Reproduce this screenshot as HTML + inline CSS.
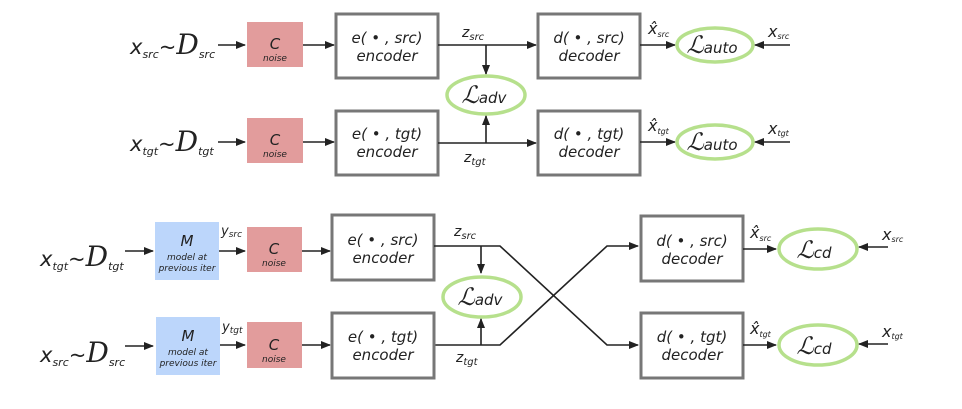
<!DOCTYPE html>
<html><head><style>
html,body{margin:0;padding:0;background:#fff;}
svg text{font-family:"DejaVu Sans","Liberation Sans",sans-serif;font-style:italic;fill:#222;}
.b{fill:#fff;stroke:#777;stroke-width:3;}
.c{fill:#e29c9c;}
.m{fill:#bcd6fb;}
.e{fill:#fff;stroke:#b6e08c;stroke-width:3.5;}
.l{stroke:#222;stroke-width:1.6;fill:none;}
.t{font-size:15px;text-anchor:middle;}
.s{font-size:9px;text-anchor:middle;}
.big{font-family:"DejaVu Serif","Liberation Serif",serif;}
.L{font-size:24px;font-family:"DejaVu Serif",serif;text-anchor:middle;}
</style></head><body>
<svg width="962" height="404" viewBox="0 0 962 404" xmlns="http://www.w3.org/2000/svg">
<defs><marker id="a" markerWidth="10" markerHeight="8" refX="9" refY="4" orient="auto" markerUnits="userSpaceOnUse"><path d="M0,0 L10,4 L0,8 z" fill="#222"/></marker></defs>

<!-- TOP -->
<text x="130" y="54" font-size="21">x<tspan font-size="11" dy="4">src</tspan><tspan dy="-4">~</tspan><tspan class="big" font-size="28">D</tspan><tspan font-size="11" dy="4">src</tspan></text>
<line class="l" x1="218" y1="45" x2="245" y2="45" marker-end="url(#a)"/>
<rect class="c" x="247" y="22" width="56" height="45"/>
<text class="t" x="275" y="49" font-size="20">C</text><text class="s" x="275" y="61">noise</text>
<line class="l" x1="303" y1="45" x2="334" y2="45" marker-end="url(#a)"/>
<rect class="b" x="336" y="14" width="102" height="64"/>
<text class="t" x="387" y="43">e( • , src)</text><text class="t" x="387" y="61">encoder</text>
<line class="l" x1="438" y1="45" x2="536" y2="45" marker-end="url(#a)"/>
<text x="462" y="37" font-size="14">z<tspan font-size="10" dy="3">src</tspan></text>
<line class="l" x1="486" y1="45" x2="486" y2="74" marker-end="url(#a)"/>
<rect class="b" x="538" y="14" width="102" height="64"/>
<text class="t" x="589" y="43">d( • , src)</text><text class="t" x="589" y="61">decoder</text>
<line class="l" x1="640" y1="45" x2="675" y2="45" marker-end="url(#a)"/>
<text x="648" y="34" font-size="16">x̂<tspan font-size="8" dy="3">src</tspan></text>
<ellipse class="e" cx="715" cy="45" rx="38" ry="17"/>
<text class="L" x="712" y="53">ℒ<tspan font-size="15" font-family="DejaVu Sans">auto</tspan></text>
<line class="l" x1="790" y1="45" x2="755" y2="45" marker-end="url(#a)"/>
<text x="768" y="37" font-size="16">x<tspan font-size="8" dy="2">src</tspan></text>

<ellipse class="e" cx="486" cy="95" rx="39" ry="19"/>
<text class="L" x="484" y="103">ℒ<tspan font-size="15" font-family="DejaVu Sans">adv</tspan></text>

<text x="130" y="151" font-size="21">x<tspan font-size="11" dy="4">tgt</tspan><tspan dy="-4">~</tspan><tspan class="big" font-size="28">D</tspan><tspan font-size="11" dy="4">tgt</tspan></text>
<line class="l" x1="218" y1="142" x2="245" y2="142" marker-end="url(#a)"/>
<rect class="c" x="247" y="118" width="56" height="45"/>
<text class="t" x="275" y="145" font-size="20">C</text><text class="s" x="275" y="157">noise</text>
<line class="l" x1="303" y1="142" x2="334" y2="142" marker-end="url(#a)"/>
<rect class="b" x="336" y="111" width="102" height="64"/>
<text class="t" x="387" y="139">e( • , tgt)</text><text class="t" x="387" y="157">encoder</text>
<line class="l" x1="438" y1="143" x2="536" y2="143" marker-end="url(#a)"/>
<text x="464" y="162" font-size="14">z<tspan font-size="10" dy="3">tgt</tspan></text>
<line class="l" x1="486" y1="143" x2="486" y2="116" marker-end="url(#a)"/>
<rect class="b" x="538" y="111" width="102" height="64"/>
<text class="t" x="589" y="139">d( • , tgt)</text><text class="t" x="589" y="157">decoder</text>
<line class="l" x1="640" y1="142" x2="675" y2="142" marker-end="url(#a)"/>
<text x="648" y="131" font-size="16">x̂<tspan font-size="8" dy="3">tgt</tspan></text>
<ellipse class="e" cx="715" cy="142" rx="38" ry="17"/>
<text class="L" x="712" y="150">ℒ<tspan font-size="15" font-family="DejaVu Sans">auto</tspan></text>
<line class="l" x1="790" y1="142" x2="755" y2="142" marker-end="url(#a)"/>
<text x="768" y="134" font-size="16">x<tspan font-size="8" dy="2">tgt</tspan></text>

<!-- BOTTOM -->
<text x="40" y="266" font-size="21">x<tspan font-size="11" dy="4">tgt</tspan><tspan dy="-4">~</tspan><tspan class="big" font-size="28">D</tspan><tspan font-size="11" dy="4">tgt</tspan></text>
<line class="l" x1="125" y1="251" x2="153" y2="251" marker-end="url(#a)"/>
<rect class="m" x="155" y="222" width="64" height="58"/>
<text class="t" x="187" y="246" font-size="17">M</text><text class="s" x="187" y="260">model at</text><text class="s" x="187" y="271">previous iter</text>
<line class="l" x1="219" y1="251" x2="245" y2="251" marker-end="url(#a)"/>
<text x="221" y="235" font-size="13">y<tspan font-size="9" dy="2">src</tspan></text>
<rect class="c" x="247" y="227" width="55" height="45"/>
<text class="t" x="274" y="254" font-size="20">C</text><text class="s" x="274" y="266">noise</text>
<line class="l" x1="302" y1="251" x2="330" y2="251" marker-end="url(#a)"/>
<rect class="b" x="332" y="215" width="102" height="65"/>
<text class="t" x="383" y="245">e( • , src)</text><text class="t" x="383" y="263">encoder</text>
<text x="454" y="236" font-size="14">z<tspan font-size="10" dy="3">src</tspan></text>
<polyline class="l" points="434,246 500,246 607,345 638,345" marker-end="url(#a)"/>
<line class="l" x1="481" y1="246" x2="481" y2="273" marker-end="url(#a)"/>
<ellipse class="e" cx="482" cy="297" rx="39" ry="20"/>
<text class="L" x="480" y="305">ℒ<tspan font-size="15" font-family="DejaVu Sans">adv</tspan></text>
<line class="l" x1="481" y1="345" x2="481" y2="319" marker-end="url(#a)"/>
<polyline class="l" points="434,345 500,345 607,246 638,246" marker-end="url(#a)"/>
<text x="456" y="362" font-size="14">z<tspan font-size="10" dy="3">tgt</tspan></text>

<text x="40" y="362" font-size="21">x<tspan font-size="11" dy="4">src</tspan><tspan dy="-4">~</tspan><tspan class="big" font-size="28">D</tspan><tspan font-size="11" dy="4">src</tspan></text>
<line class="l" x1="125" y1="346" x2="153" y2="346" marker-end="url(#a)"/>
<rect class="m" x="156" y="317" width="64" height="58"/>
<text class="t" x="188" y="341" font-size="17">M</text><text class="s" x="188" y="355">model at</text><text class="s" x="188" y="366">previous iter</text>
<line class="l" x1="220" y1="345" x2="245" y2="345" marker-end="url(#a)"/>
<text x="222" y="331" font-size="13">y<tspan font-size="9" dy="2">tgt</tspan></text>
<rect class="c" x="247" y="322" width="55" height="46"/>
<text class="t" x="274" y="350" font-size="20">C</text><text class="s" x="274" y="362">noise</text>
<line class="l" x1="302" y1="345" x2="330" y2="345" marker-end="url(#a)"/>
<rect class="b" x="332" y="313" width="102" height="65"/>
<text class="t" x="383" y="342">e( • , tgt)</text><text class="t" x="383" y="360">encoder</text>

<rect class="b" x="641" y="216" width="102" height="65"/>
<text class="t" x="692" y="246">d( • , src)</text><text class="t" x="692" y="264">decoder</text>
<line class="l" x1="743" y1="249" x2="776" y2="249" marker-end="url(#a)"/>
<text x="750" y="238" font-size="16">x̂<tspan font-size="8" dy="3">src</tspan></text>
<ellipse class="e" cx="818" cy="249" rx="39" ry="20"/>
<text class="L" x="814" y="258">ℒ<tspan font-size="15" font-family="DejaVu Sans">cd</tspan></text>
<line class="l" x1="888" y1="247" x2="859" y2="247" marker-end="url(#a)"/>
<text x="882" y="240" font-size="16">x<tspan font-size="8" dy="2">src</tspan></text>

<rect class="b" x="641" y="313" width="102" height="65"/>
<text class="t" x="692" y="342">d( • , tgt)</text><text class="t" x="692" y="360">decoder</text>
<line class="l" x1="743" y1="345" x2="776" y2="345" marker-end="url(#a)"/>
<text x="750" y="334" font-size="16">x̂<tspan font-size="8" dy="3">tgt</tspan></text>
<ellipse class="e" cx="818" cy="345" rx="39" ry="20"/>
<text class="L" x="814" y="354">ℒ<tspan font-size="15" font-family="DejaVu Sans">cd</tspan></text>
<line class="l" x1="888" y1="344" x2="859" y2="344" marker-end="url(#a)"/>
<text x="882" y="337" font-size="16">x<tspan font-size="8" dy="2">tgt</tspan></text>
</svg>
</body></html>
